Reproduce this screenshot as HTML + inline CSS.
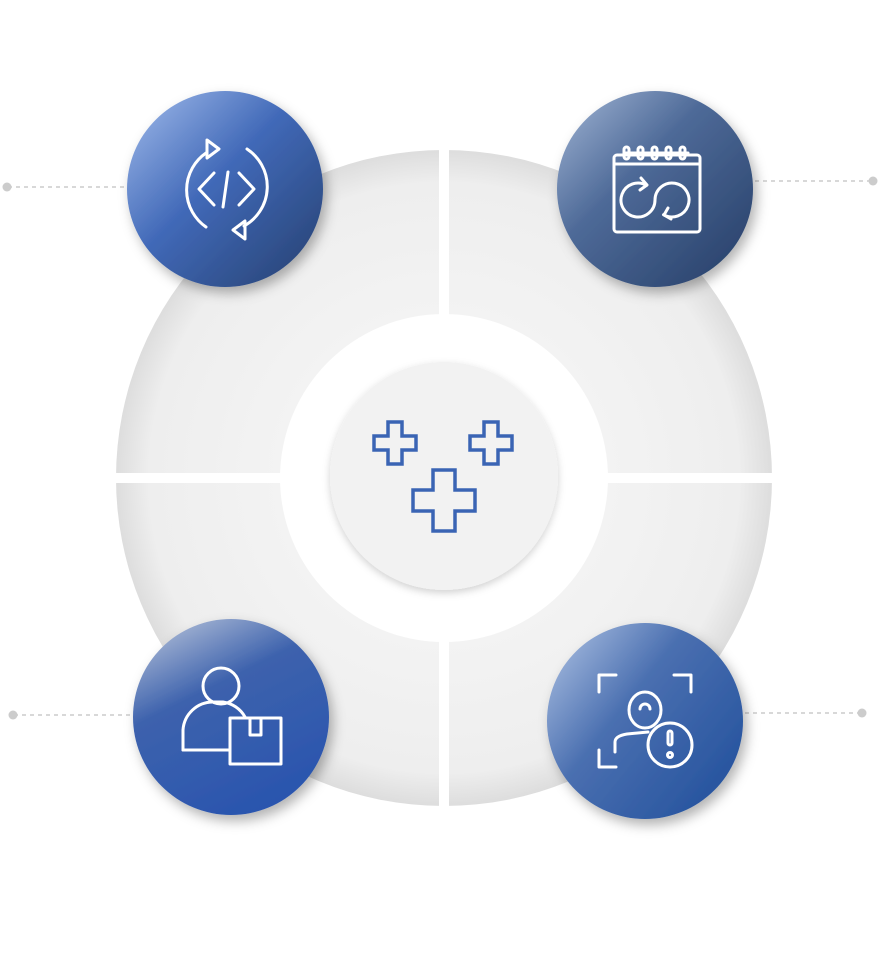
<!DOCTYPE html>
<html><head><meta charset="utf-8"><style>html,body{margin:0;padding:0;background:#fff}svg{display:block}</style></head>
<body>
<svg width="888" height="956" viewBox="0 0 888 956" xmlns="http://www.w3.org/2000/svg">
<defs>
<radialGradient id="ring" cx="444" cy="478" r="328" gradientUnits="userSpaceOnUse">
<stop offset="0.5" stop-color="#f3f3f3"/><stop offset="0.9" stop-color="#eeeeee"/><stop offset="1" stop-color="#dddddd"/></radialGradient>
<linearGradient id="g1" x1="0" y1="0" x2="1" y2="1"><stop offset="0" stop-color="#a3bdec"/><stop offset="0.45" stop-color="#4169b8"/><stop offset="1" stop-color="#25406f"/></linearGradient>
<linearGradient id="g2" x1="0" y1="0" x2="1" y2="1"><stop offset="0" stop-color="#a3b7d6"/><stop offset="0.4" stop-color="#4e6a98"/><stop offset="1" stop-color="#243d66"/></linearGradient>
<linearGradient id="g3" x1="0.1" y1="0" x2="0.6" y2="1"><stop offset="0" stop-color="#b7c3da"/><stop offset="0.4" stop-color="#3d62ad"/><stop offset="1" stop-color="#2a55ae"/></linearGradient>
<linearGradient id="g4" x1="0" y1="0.1" x2="1" y2="0.9"><stop offset="0" stop-color="#a8bde0"/><stop offset="0.4" stop-color="#4a6fb0"/><stop offset="1" stop-color="#21509c"/></linearGradient>
<filter id="sh" x="-30%" y="-30%" width="160%" height="160%"><feDropShadow dx="4" dy="6" stdDeviation="6" flood-color="#000" flood-opacity="0.3"/></filter>
<filter id="sh2" x="-30%" y="-30%" width="160%" height="160%"><feDropShadow dx="0" dy="3" stdDeviation="4" flood-color="#000" flood-opacity="0.18"/></filter>
</defs>
<g stroke="#cccccc" stroke-width="1.5" stroke-dasharray="4 4">
<line x1="8" y1="187" x2="126" y2="187"/><line x1="755" y1="181" x2="872" y2="181"/>
<line x1="14" y1="715" x2="132" y2="715"/><line x1="745" y1="713" x2="862" y2="713"/></g>
<g fill="#cccccc"><circle cx="7" cy="187" r="4.5"/><circle cx="873" cy="181" r="4.5"/><circle cx="13" cy="715" r="4.5"/><circle cx="862" cy="713" r="4.5"/></g>
<circle cx="444" cy="478" r="328" fill="url(#ring)"/>
<circle cx="444" cy="478" r="164" fill="#fff"/>
<rect x="439" y="140" width="10" height="680" fill="#fff"/>
<rect x="100" y="473" width="690" height="10" fill="#fff"/>
<circle cx="444" cy="476" r="114" fill="#f2f2f2" filter="url(#sh2)"/>
<g fill="none" stroke="#3a64b4" stroke-width="3.5" stroke-linejoin="miter">
<path d="M388 422h14v14h14v14h-14v14h-14v-14h-14v-14h14z"/>
<path d="M484 422h14v14h14v14h-14v14h-14v-14h-14v-14h14z"/>
<path d="M433 470h22v20h20v21h-20v20h-22v-20h-20v-21h20z"/>
</g>
<circle cx="225" cy="189" r="98" fill="url(#g1)" filter="url(#sh)"/>
<circle cx="655" cy="189" r="98" fill="url(#g2)" filter="url(#sh)"/>
<circle cx="231" cy="717" r="98" fill="url(#g3)" filter="url(#sh)"/>
<circle cx="645" cy="721" r="98" fill="url(#g4)" filter="url(#sh)"/>
<g fill="none" stroke="#fff" stroke-width="3" stroke-linecap="round" stroke-linejoin="round">
<!-- code refresh -->
<path d="M206 153 A45 45 0 0 0 206 227"/>
<path d="M207 140 l12 9 -12 9 z"/>
<path d="M247 149 A45 45 0 0 1 244 226"/>
<path d="M245 239 l-12 -9 12 -9 z"/>
<path d="M214 173 l-15 16 15 16"/><path d="M239 173 l15 16 -15 16"/><path d="M228 172 l-5 35"/>
<!-- calendar -->
<rect x="614" y="155" width="86" height="77" rx="3"/>
<line x1="614" y1="164" x2="700" y2="164"/>
<line x1="626" y1="153" x2="688" y2="153"/>
<g><rect x="624" y="147" width="5" height="12" rx="2.5"/><rect x="638" y="147" width="5" height="12" rx="2.5"/><rect x="652" y="147" width="5" height="12" rx="2.5"/><rect x="666" y="147" width="5" height="12" rx="2.5"/><rect x="680" y="147" width="5" height="12" rx="2.5"/></g>
<path d="M646.5 185.3 A17 17 0 1 0 655 200 A17 17 0 1 1 663.5 214.7"/>
<path d="M641 178 l6 7 -7 5"/>
<path d="M671 219 l-7 -4 4 -7"/>
<!-- person box -->
<circle cx="221" cy="686" r="18"/>
<path d="M183 750 v-20 a30 30 0 0 1 30 -28 h10 a30 30 0 0 1 22 15"/>
<line x1="183" y1="750" x2="230" y2="750"/>
<rect x="230" y="718" width="51" height="46"/>
<path d="M250 718 v17 h11 v-17"/>
<!-- face alert -->
<path d="M599 692 v-17 h17"/><path d="M674 675 h17 v17"/><path d="M599 750 v17 h17"/>
<ellipse cx="645" cy="710" rx="16" ry="18"/>
<path d="M640 709 a5 5 0 0 1 10 0"/>
<path d="M615 752 v-10 q0 -6 12 -8 l21 -2"/>
<circle cx="670" cy="745" r="22"/>
<rect x="668" y="731" width="4" height="14" rx="2"/>
<circle cx="670" cy="755" r="2.5"/>
</g>
</svg>
</body></html>
